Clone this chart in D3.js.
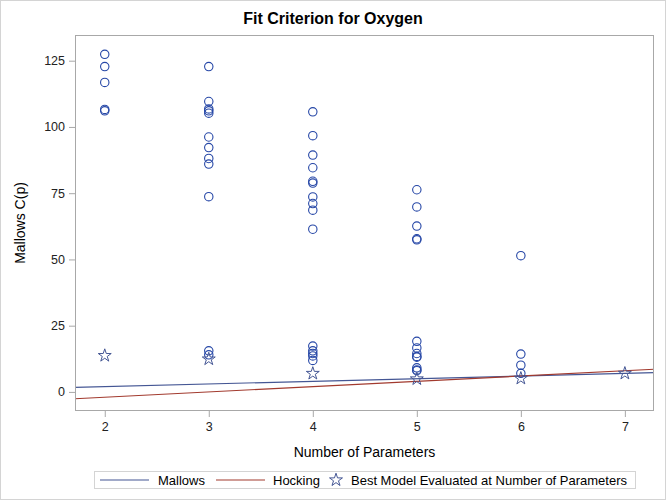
<!DOCTYPE html>
<html><head><meta charset="utf-8">
<script src="https://cdn.jsdelivr.net/npm/d3@7"></script>
<style>body{margin:0;background:#fff}svg{display:block}text{font-family:"Liberation Sans",Arial,sans-serif}</style>
</head><body><svg id="c" width="666" height="500"></svg>
<script>
// ---- data ----
const title = "Fit Criterion for Oxygen";
const xLabel = "Number of Parameters";
const yLabel = "Mallows C(p)";
const xTicks = [2, 3, 4, 5, 6, 7];
const yTicks = [0, 25, 50, 75, 100, 125];
const fullModelP = 7;
// Cp of all subset models (non-best), per number of parameters
const cp2 = [127.4, 122.8, 116.8, 106.6, 106.1];
const cp3 = [122.8, 109.6, 106.8, 106.1, 105.2, 96.2, 92.2, 88.1, 86.0, 73.7, 15.5, 14.0];
const cp4 = [105.7, 96.7, 89.4, 84.6, 79.5, 78.8, 73.6, 71.1, 68.6, 61.4, 17.3, 15.5, 14.5, 13.6, 11.9];
const cp5 = [76.3, 69.8, 62.6, 57.8, 57.4, 19.1, 16.6, 14.5, 13.4, 13.1, 9.1, 8.3, 8.0];
const cp6 = [51.4, 14.3, 10.1, 7.0];
// best model at each number of parameters
const bestP = [2, 3, 4, 5, 6, 7];
const bestCp = [13.70, 12.39, 6.96, 4.88, 5.11, 7.00];
const legendLabels = ["Mallows", "Hocking", "Best Model Evaluated at Number of Parameters"];

const colors = {marker: "#2546a6", mallows: "#445694", hocking: "#a23a2e", star: "#445694"};

// ---- layout ----
const svg = d3.select("#c");
const W = 666, H = 500;
const L = 75, R = 654, T = 35, B = 411;
const xs = d3.scaleLinear().domain([1.714, 7.28]).range([L, R]);
const ys = d3.scaleLinear().domain([-7.2, 134.7]).range([B, T]);

svg.append("rect").attr("x", 0.5).attr("y", 0.5).attr("width", W - 1).attr("height", H - 1)
  .attr("fill", "#fff").attr("stroke", "#d4d4d4");

svg.append("text").attr("x", W / 2).attr("y", 24).attr("text-anchor", "middle")
  .attr("font-size", 16).attr("font-weight", "bold").attr("fill", "#000").text(title);

svg.append("clipPath").attr("id", "clip").append("rect")
  .attr("x", L).attr("y", T).attr("width", R - L).attr("height", B - T);
const plot = svg.append("g").attr("clip-path", "url(#clip)");

// reference lines: Mallows Cp = p, Hocking Cp = 2p - pFull + 1
const dom = xs.domain();
const mallows = dom.map(p => [p, p]);
const hocking = dom.map(p => [p, 2 * p - fullModelP + 1]);
const line = d3.line().x(d => xs(d[0])).y(d => ys(d[1]));
plot.append("path").datum(mallows).attr("d", line).attr("fill", "none")
  .attr("stroke", colors.mallows).attr("stroke-width", 1.2);
plot.append("path").datum(hocking).attr("d", line).attr("fill", "none")
  .attr("stroke", colors.hocking).attr("stroke-width", 1.2);

// circles
const groups = [[2, cp2], [3, cp3], [4, cp4], [5, cp5], [6, cp6]];
const pts = [];
groups.forEach(([p, arr]) => arr.forEach(v => pts.push([p, v])));
plot.selectAll("circle.m").data(pts).enter().append("circle")
  .attr("cx", d => xs(d[0])).attr("cy", d => ys(d[1])).attr("r", 4.2)
  .attr("fill", "none").attr("stroke", colors.marker).attr("stroke-width", 1.1);

// stars
const starPath = d3.symbol().type(d3.symbolStar).size(52)();
plot.selectAll("path.s").data(bestP.map((p, i) => [p, bestCp[i]])).enter().append("path")
  .attr("d", starPath).attr("transform", d => `translate(${xs(d[0])},${ys(d[1])})`)
  .attr("fill", "none").attr("stroke", colors.star).attr("stroke-width", 1);

// frame
svg.append("rect").attr("x", L + 0.5).attr("y", T + 0.5).attr("width", R - L - 1).attr("height", B - T - 1)
  .attr("fill", "none").attr("stroke", "#a8a8a8");

// axes
const xAxis = svg.append("g").attr("transform", `translate(0,${B})`)
  .call(d3.axisBottom(xs).tickValues(xTicks).tickSize(6).tickPadding(5).tickFormat(d3.format("d")));
const yAxis = svg.append("g").attr("transform", `translate(${L},0)`)
  .call(d3.axisLeft(ys).tickValues(yTicks).tickSize(6).tickPadding(4).tickFormat(d3.format("d")));
[xAxis, yAxis].forEach(a => {
  a.select(".domain").remove();
  a.selectAll(".tick line").attr("stroke", "#a8a8a8");
  a.selectAll(".tick text").attr("font-size", 12.5).attr("fill", "#222")
    .attr("font-family", "Liberation Sans, Arial, sans-serif");
});

svg.append("text").attr("x", (L + R) / 2).attr("y", 457).attr("text-anchor", "middle")
  .attr("font-size", 14).attr("fill", "#000").text(xLabel);
svg.append("text").attr("transform", `translate(25,${(T + B) / 2}) rotate(-90)`)
  .attr("text-anchor", "middle").attr("font-size", 14).attr("fill", "#000").text(yLabel);

// legend
const lg = svg.append("g");
lg.append("rect").attr("x", 94.5).attr("y", 471.5).attr("width", 541).attr("height", 17)
  .attr("fill", "#fff").attr("stroke", "#d4d4d4");
const ly = 480;
lg.append("line").attr("x1", 100).attr("x2", 149).attr("y1", ly).attr("y2", ly)
  .attr("stroke", colors.mallows).attr("stroke-width", 1.2);
lg.append("text").attr("x", 158).attr("y", ly + 4.5).attr("font-size", 13).text(legendLabels[0]);
lg.append("line").attr("x1", 216).attr("x2", 265).attr("y1", ly).attr("y2", ly)
  .attr("stroke", colors.hocking).attr("stroke-width", 1.2);
lg.append("text").attr("x", 273).attr("y", ly + 4.5).attr("font-size", 13).text(legendLabels[1]);
lg.append("path").attr("d", starPath).attr("transform", `translate(336,${ly})`)
  .attr("fill", "none").attr("stroke", colors.star).attr("stroke-width", 1);
lg.append("text").attr("x", 351).attr("y", ly + 4.5).attr("font-size", 13).text(legendLabels[2]);
</script></body></html>
